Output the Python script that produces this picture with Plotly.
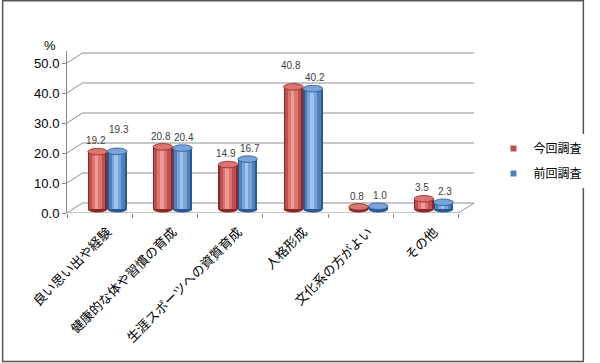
import plotly.graph_objects as go

# ---- data ----
categories = ["良い思い出や経験", "健康的な体や習慣の育成", "生涯スポーツへの資質育成",
              "人格形成", "文化系の方がよい", "その他"]
current_survey = [19.2, 20.8, 14.9, 40.8, 0.8, 3.5]   # 今回調査
previous_survey = [19.3, 20.4, 16.7, 40.2, 1.0, 2.3]  # 前回調査
series_names = ["今回調査", "前回調査"]
y_ticks = [0, 10, 20, 30, 40, 50]

# ---- geometry / style ----
W, H = 600, 363
ML, MR, MT, MB = 67, 112, 51, 150
YMAX = 54.0
DX, DY = 0.238, 3.33          # 3D depth offset (x in category units, y in value units)
SHIFT_X, BASE = DX / 2, 1.25  # bars sit mid-depth
BW = 0.3                      # bar width
ELL = 1.1                     # ellipse half height (value units)
XMIN, XMAX = -0.5, -0.5 + (W - ML - MR) / 67.17

palettes = [
    dict(dark="#8a2826", main="#c0504d", light="#dc7471", hi="#ee9a97"),
    dict(dark="#2a5893", main="#4f81bd", light="#79a4da", hi="#a4c3ec"),
]
label_lift = {(1, 0): 11, (0, 3): 11}  # extra lift for some labels (series, category)

fig = go.Figure()
shapes = []
annotations = []

# back/left wall grid lines and floor
for v in y_ticks:
    shapes.append(dict(type="path", xref="x", yref="y", layer="below",
                       path=f"M {XMIN},{v} L {XMIN+DX},{v+DY} L {5.5+DX},{v+DY}",
                       line=dict(color="#8f8f8f", width=1)))
shapes.append(dict(type="path", xref="x", yref="y", layer="below",
                   path=f"M {XMIN},0 L 5.5,0 L {5.5+DX},{DY}",
                   line=dict(color="#8f8f8f", width=1)))

xs = list(range(len(categories)))
for s, (vals, name) in enumerate(zip([current_survey, previous_survey], series_names)):
    pal = palettes[s]
    centers = [x + SHIFT_X + (-BW / 2 if s == 0 else BW / 2) for x in xs]
    layers = [(1.0, 0.0, pal["dark"]), (0.82, -0.02, pal["main"]),
              (0.5, -0.03, pal["light"]), (0.18, -0.05, pal["hi"])]
    for frac, off, col in layers:
        w = BW * frac
        fig.add_trace(go.Bar(
            x=xs, y=vals, base=[BASE] * len(vals),
            width=w, offset=[c - x - w / 2 + off * BW for c, x in zip(centers, xs)],
            marker=dict(color=col, line=dict(width=0)),
            showlegend=False, hoverinfo="skip"))
    for i, (c, v) in enumerate(zip(centers, vals)):
        # bottom ellipse (behind bars)
        shapes.append(dict(type="circle", xref="x", yref="y", layer="below",
                           x0=c - BW / 2, x1=c + BW / 2, y0=BASE - ELL, y1=BASE + ELL,
                           fillcolor=pal["dark"], line=dict(width=0)))
        # top ellipse
        top = BASE + v
        shapes.append(dict(type="circle", xref="x", yref="y", layer="above",
                           x0=c - BW / 2, x1=c + BW / 2, y0=top - ELL, y1=top + ELL,
                           fillcolor=pal["light"], line=dict(color=pal["dark"], width=0.8)))
        annotations.append(dict(x=c, y=top + ELL, xref="x", yref="y", text=f"{v:.1f}",
                                showarrow=False, yanchor="bottom",
                                xshift=-2 if s == 0 else 2,
                                yshift=label_lift.get((s, i), 0),
                                font=dict(size=10, color="#404040",
                                          family="Liberation Sans, Arial")))
    # legend entry
    fig.add_trace(go.Scatter(x=[None], y=[None], mode="markers", name=name,
                             legendgroup=name,
                             marker=dict(symbol="square", size=6, color=pal["main"])))

px2x = lambda px: (px - ML) / (W - ML - MR)
px2y = lambda py: (H - MB - py) / (H - MT - MB)

# outer frame
shapes.append(dict(type="rect", xref="paper", yref="paper", layer="above",
                   x0=px2x(0.75), x1=px2x(W - 1.5), y0=px2y(H - 1.5), y1=px2y(0.75),
                   line=dict(color="#555555", width=1.5)))
annotations.append(dict(x=px2x(50), y=px2y(45), xref="paper", yref="paper", text="%",
                        xanchor="center", yanchor="middle",
                        showarrow=False, font=dict(size=13, color="#000",
                                                   family="Liberation Sans, Arial")))

fig.update_layout(
    width=W, height=H, margin=dict(l=ML, r=MR, t=MT, b=MB),
    paper_bgcolor="white", plot_bgcolor="white",
    barmode="overlay", bargap=0,
    shapes=shapes, annotations=annotations,
    showlegend=True,
    legend=dict(x=px2x(506), y=px2y(134), xanchor="left", yanchor="top",
                tracegroupgap=6, itemwidth=30,
                font=dict(size=12, color="#000", family="Noto Sans CJK JP")),
    xaxis=dict(range=[XMIN, XMAX], tickvals=xs, ticktext=categories, tickangle=-45,
               ticks="", showgrid=False, zeroline=False, showline=False,
               ticklabelshift=8, ticklabelstandoff=8,
               tickfont=dict(size=13, color="#000", family="Noto Sans CJK JP"),
               minor=dict(tickvals=[x - 0.5 for x in xs] + [5.5], ticks="outside",
                          ticklen=4, tickcolor="#888", showgrid=False)),
    yaxis=dict(range=[0, YMAX], tickvals=y_ticks, tickformat=".1f", ticks="outside",
               ticklen=4, tickcolor="#888", showline=True, linecolor="#888",
               showgrid=False, zeroline=False,
               tickfont=dict(size=13, color="#000", family="Liberation Sans, Arial")),
)

fig.write_html("out.html", config={"displayModeBar": False},
               post_script="document.body.style.margin='0';")
